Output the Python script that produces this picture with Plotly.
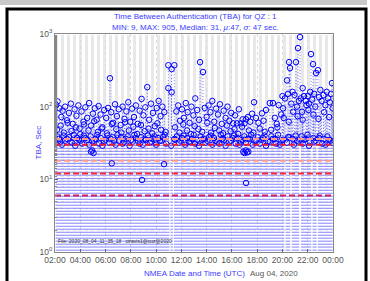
import datetime as dt
import plotly.graph_objects as go

# ---------------- data ----------------
DAY = dt.datetime(2020, 8, 4)

# upper scatter of TBA values (hour of day, seconds)
hi_hours = [2.1, 2.2, 2.35, 2.5, 2.6, 2.8, 2.95, 3.1, 3.25, 3.4, 3.55, 3.7, 3.85, 3.95,
            4.1, 4.25, 4.4, 4.55, 4.7, 4.85, 5.0, 5.15, 5.3, 5.45, 5.6, 5.75, 5.9,
            6.05, 6.2, 6.35, 6.45, 6.6, 6.75, 6.9, 7.05, 7.2, 7.35, 7.5, 7.65, 7.8, 7.95,
            8.1, 8.25, 8.4, 8.55, 8.7, 8.85, 9.0, 9.15, 9.3, 9.45, 9.6, 9.75, 9.9,
            10.05, 10.2, 10.35, 10.5, 10.65, 10.97, 10.97, 11.23, 11.23, 11.44, 11.6, 11.75, 11.9,
            12.05, 12.2, 12.35, 12.5, 12.65, 12.8, 12.95, 13.1, 13.25, 13.4, 13.48, 13.71, 13.85,
            14.0, 14.15, 14.3, 14.45, 14.6, 14.75, 14.9, 15.05, 15.2, 15.35, 15.5, 15.65, 15.8, 15.95,
            16.1, 16.25, 16.4, 16.55, 16.7, 16.85, 17.0, 17.12, 17.27, 17.45, 17.6, 17.75, 17.9,
            18.1, 18.38, 18.5, 18.7, 19.0, 19.25, 19.4, 19.55, 19.7, 19.9,
            20.0, 20.05, 20.2, 20.36, 20.44, 20.52, 20.6, 20.7, 20.8, 20.95, 21.07, 21.15, 21.23,
            21.3, 21.39, 21.45, 21.55, 21.6, 21.7, 21.85, 21.9,
            22.0, 22.1, 22.2, 22.26, 22.35, 22.42, 22.5, 22.6, 22.66, 22.81, 22.9, 23.0, 23.1,
            23.25, 23.4, 23.5, 23.6, 23.75, 23.85, 23.92, 23.97]
hi_values = [105, 118, 95, 72, 88, 100, 65, 82, 110, 58, 92, 75, 104, 50,
             86, 62, 98, 70, 112, 55, 80, 95, 66, 102, 78, 52, 90,
             70, 96, 246, 84, 60, 108, 74, 92, 56, 100, 68, 86, 115, 62,
             94, 72, 104, 58, 88, 128, 76, 98, 186, 66, 110, 82, 54,
             96, 120, 74, 100, 84, 372, 180, 330, 158, 372, 86, 104, 64,
             92, 70, 112, 84, 60, 100, 76, 130, 90, 66, 410, 300, 96,
             72, 104, 84, 120, 62, 94, 78, 108, 58, 88, 70, 100, 64, 82,
             59, 76, 59, 92, 59, 67, 59, 67, 72, 62, 80, 115, 70,
             60, 81, 64, 90, 112, 112, 70, 58, 105, 78,
             140, 95, 130, 230, 150, 410, 340, 110, 160, 145, 410, 100, 640,
             120, 906, 130, 85, 180, 140, 120, 105,
             140, 110, 160, 530, 125, 385, 150, 100, 290, 318, 135, 170, 120,
             145, 105, 160, 130, 115, 150, 211, 95]

# secondary cluster of mid values (between band and upper scatter)
mid_hours = [2.15, 2.45, 2.7, 3.0, 3.3, 3.65, 4.0, 4.3, 4.65, 5.1, 5.4, 5.7, 6.1, 6.5,
             6.85, 7.25, 7.55, 7.85, 8.2, 8.5, 8.8, 9.1, 9.4, 9.7, 10.1, 10.4, 10.75,
             11.5, 11.85, 12.15, 12.45, 12.75, 13.05, 13.35, 13.65, 14.05, 14.35, 14.65,
             15.0, 15.3, 15.6, 15.9, 16.2, 16.5, 16.8, 17.35, 17.7, 18.2, 18.6, 19.1,
             19.6, 20.1, 20.5, 20.85, 21.2, 21.6, 22.05, 22.45, 22.85, 23.3, 23.7]
mid_values = [48, 55, 44, 60, 46, 52, 42, 57, 47, 63, 45, 50, 43, 58, 49, 44, 61, 47,
              53, 42, 56, 46, 50, 43, 59, 48, 45, 52, 44, 57, 47, 42, 54, 49, 45, 60,
              44, 51, 47, 43, 55, 46, 49, 42, 53, 47, 44, 50, 45, 48, 52, 70, 62, 85,
              74, 66, 90, 78, 68, 84, 72]

# dense band of values around the median
band_hours = [2.05, 2.3, 2.55, 2.8, 3.1, 3.35, 3.6, 3.9, 4.15, 4.4, 4.7, 4.95, 5.2, 5.5,
              5.75, 6.0, 6.3, 6.55, 6.8, 7.1, 7.35, 7.6, 7.9, 8.15, 8.4, 8.7, 8.95, 9.2,
              9.5, 9.75, 10.0, 10.3, 10.55, 10.8, 11.2, 11.5, 11.8, 12.05, 12.3, 12.6,
              12.85, 13.1, 13.4, 13.65, 13.9, 14.2, 14.45, 14.7, 15.0, 15.25, 15.5, 15.8,
              16.05, 16.3, 16.6, 16.85, 17.1, 17.4, 17.65, 17.9, 18.2, 18.45, 18.7, 19.0,
              19.25, 19.5, 19.8, 20.05, 20.35, 20.55, 20.9, 21.15, 21.6, 21.85, 22.1,
              22.5, 22.9, 23.15, 23.4, 23.7, 23.95]
band_values = [31, 36, 30, 34, 38, 32, 29, 35, 31, 37, 30, 33, 36, 31, 29, 35, 32, 38,
               30, 34, 31, 36, 29, 33, 37, 31, 30, 35, 32, 36, 30, 34, 38, 31, 29, 35,
               32, 37, 30, 33, 36, 31, 29, 35, 32, 38, 30, 34, 31, 36, 29, 33, 37, 31,
               30, 35, 32, 36, 30, 34, 31, 37, 29, 33, 36, 31, 30, 35, 32, 38, 30, 34,
               31, 36, 29, 33, 37, 31, 30, 35, 32]
# second row of the band (offset in time)
band2_hours = [2.18, 2.43, 2.68, 2.95, 3.22, 3.48, 3.75, 4.02, 4.28, 4.55, 4.82, 5.08,
               5.35, 5.62, 5.88, 6.15, 6.42, 6.68, 6.95, 7.22, 7.48, 7.75, 8.02, 8.28,
               8.55, 8.82, 9.08, 9.35, 9.62, 9.88, 10.15, 10.42, 10.68, 11.45, 11.65,
               11.92, 12.18, 12.45, 12.72, 12.98, 13.25, 13.52, 13.78, 14.05, 14.32, 14.58,
               14.85, 15.12, 15.38, 15.65, 15.92, 16.18, 16.45, 16.72, 16.98, 17.25, 17.52,
               17.78, 18.05, 18.32, 18.58, 18.85, 19.12, 19.38, 19.65, 19.92, 20.45,
               20.8, 21.05, 21.28, 21.52, 21.75, 21.98, 22.45, 22.62, 22.95, 23.28, 23.55,
               23.82]
band2_values = [39, 33, 40, 36, 33, 41, 37, 34, 40, 35, 39, 34, 41, 37, 33, 40, 36,
                34, 41, 38, 33, 39, 35, 41, 34, 38, 36, 40, 33, 39, 37, 34, 41, 36,
                39, 34, 40, 37, 33, 41, 35, 39, 36, 34, 40, 37, 33, 41, 35, 39, 34,
                40, 37, 33, 39, 36, 41, 34, 38, 35, 40, 33, 39, 36, 41, 34, 38, 36,
                40, 33, 39, 35, 41, 37, 34, 40, 36, 39, 34]

# low outliers
low_hours = [4.85, 4.95, 5.05, 6.49, 8.89, 10.63, 16.9, 17.0, 17.1, 17.2, 17.3, 17.12]
low_values = [24, 25, 23, 16.6, 9.8, 16.2, 24, 23, 25, 23.5, 24, 8.9]

# horizontal stripe pattern of the dense dotted connectors
stripe_levels = [1.06, 1.17, 1.28, 1.41, 1.55, 1.70, 1.87, 2.06, 2.26, 2.49, 2.74, 3.01,
                 3.31, 3.64, 4.0, 4.4, 4.84, 5.32, 5.85, 6.43, 7.07, 7.78, 8.55, 9.40,
                 10.3, 11.4, 12.5, 13.8, 15.1, 16.6, 18.3, 20.1, 22.1, 24.3, 26.7, 29.4]
data_start_hour = 2.05
data_end_hour = 23.98
gap_start_hours = [11.05, 11.33, 20.15, 20.62, 21.33, 22.28, 22.70]
gap_end_hours = [11.14, 11.41, 20.25, 20.74, 21.47, 22.38, 22.80]

# reference threshold lines
ref_levels = [36, 30, 18, 12, 6]
ref_labels = ["36 Sec", "30 Sec", "18 Sec", "12 Sec", "6 Sec"]
ref_colors = ["#ff9a8a", "#e8203a", "#ff9a8a", "#ff2a2a", "#d0205a"]

x_tick_hours = [2, 4, 6, 8, 10, 12, 14, 16, 18, 20, 22, 24]
y_tick_vals = [1, 10, 100, 1000]
y_tick_text = ["10<sup>0</sup>", "10<sup>1</sup>", "10<sup>2</sup>", "10<sup>3</sup>"]


def T(h):
    return DAY + dt.timedelta(hours=h)


fig = go.Figure()

# stripes
sx, sy = [], []
seg_bounds = [data_start_hour]
for a, b in zip(gap_start_hours, gap_end_hours):
    seg_bounds += [a, b]
seg_bounds.append(data_end_hour)
for lev in stripe_levels:
    for i in range(0, len(seg_bounds), 2):
        sx += [T(seg_bounds[i]), T(seg_bounds[i + 1]), None]
        sy += [lev, lev, None]
fig.add_trace(go.Scatter(x=sx, y=sy, mode="lines", hoverinfo="skip",
                         line=dict(color="rgba(80,80,255,0.7)", width=1)))

# stems (dotted connectors)
tx, ty = [], []
for h, v in zip(hi_hours + mid_hours, hi_values + mid_values):
    tx += [T(h), T(h), None]
    ty += [v, 32, None]
fig.add_trace(go.Scatter(x=tx, y=ty, mode="lines", hoverinfo="skip",
                         line=dict(color="rgba(60,60,255,0.7)", width=1, dash="1px,2px")))

mk = dict(symbol="circle-open", size=5.5, color="#0000ff", line=dict(width=1))

# band rows
fig.add_trace(go.Scatter(x=[T(h) for h in band2_hours], y=band2_values, mode="lines+markers",
                         line=dict(color="#2a2aff", width=1, dash="1px,1px"), marker=mk))
fig.add_trace(go.Scatter(x=[T(h) for h in band_hours], y=band_values, mode="lines+markers",
                         line=dict(color="#1a1aff", width=1, dash="1px,1px"), marker=mk))

# reference lines
for lev, lab, col in zip(ref_levels, ref_labels, ref_colors):
    fig.add_trace(go.Scatter(x=[T(2.0), T(24.0)], y=[lev, lev], mode="lines", hoverinfo="skip",
                             line=dict(color=col, width=2, dash="6px,3px")))
    fig.add_annotation(x=T(2.15), y=lev, xref="x", yref="y", yshift=6, text=lab,
                       showarrow=False, xanchor="left", yanchor="middle",
                       font=dict(size=7, color="#222"))

# mid points
fig.add_trace(go.Scatter(x=[T(h) for h in mid_hours], y=mid_values, mode="markers", marker=mk))
# hi points
fig.add_trace(go.Scatter(x=[T(h) for h in hi_hours], y=hi_values, mode="markers", marker=mk))
# low points
fig.add_trace(go.Scatter(x=[T(h) for h in low_hours], y=low_values, mode="markers", marker=mk))

font_main = "Liberation Sans, Arial, sans-serif"
blue_txt = "#3b3bff"

fig.update_layout(
    width=370, height=281,
    margin=dict(l=55, r=37, t=34, b=29),
    paper_bgcolor="white", plot_bgcolor="white",
    showlegend=False,
    font=dict(family=font_main, size=8, color="#555"),
    xaxis=dict(type="date", range=[T(2.0), T(24.0)],
               tickvals=[T(h) for h in x_tick_hours], tickformat="%H:%M",
               ticks="inside", ticklen=3, tickcolor="#666",
               showline=True, linecolor="#888", mirror=True,
               showgrid=True, gridcolor="#dcdcdc", griddash="dot",
               tickfont=dict(size=8.5, color="#555"), zeroline=False),
    yaxis=dict(type="log", range=[0, 3],
               tickvals=y_tick_vals, ticktext=y_tick_text,
               ticks="inside", ticklen=3, tickcolor="#666",
               showline=True, linecolor="#888", mirror=True,
               showgrid=True, gridcolor="#dcdcdc", griddash="dot",
               minor=dict(showgrid=True, gridcolor="#e8e8e8", griddash="dot",
                          ticks="inside", ticklen=2, tickcolor="#888"),
               tickfont=dict(size=8.5, color="#555"), zeroline=False),
)

pw, ph = 278.0, 218.0
def px(x):
    return (x - 55) / pw
def py(y):
    return (252 - y) / ph

# titles and labels
fig.add_annotation(xref="paper", yref="paper", x=px(195), y=py(16),
                   text="Time Between Authentication (TBA) for QZ : 1",
                   showarrow=False, font=dict(size=8, color=blue_txt), yanchor="middle")
fig.add_annotation(xref="paper", yref="paper", x=px(195), y=py(27),
                   text="MIN: 9, MAX: 905, Median: 31, <i>μ</i>:47, <i>σ</i>: 47 sec.",
                   showarrow=False, font=dict(size=8, color=blue_txt), yanchor="middle")
fig.add_annotation(xref="paper", yref="paper", x=px(31), y=0.5, text="TBA, Sec",
                   textangle=-90, showarrow=False, font=dict(size=8, color=blue_txt))
fig.add_annotation(xref="paper", yref="paper", x=px(194), y=py(273),
                   text="NMEA Date and Time (UTC)", showarrow=False,
                   font=dict(size=8, color=blue_txt), yanchor="middle")
fig.add_annotation(xref="paper", yref="paper", x=px(300), y=py(273),
                   text="Aug 04, 2020", showarrow=False,
                   font=dict(size=8, color="#555"), yanchor="middle")
fig.add_annotation(xref="paper", yref="paper", x=px(56), y=py(241),
                   text="File: 2020_08_04_11_35_18   ctravis1@cuz@2020", showarrow=False,
                   xanchor="left", yanchor="middle", font=dict(size=5, color="#333"))

# window decoration: grey top band and black frame
fig.add_shape(type="rect", xref="paper", yref="paper", x0=px(0), x1=px(367), y0=py(5), y1=py(0),
              fillcolor="#c8c8c8", line=dict(width=0), layer="below")
fig.add_shape(type="rect", xref="paper", yref="paper", x0=px(7), x1=px(366), y0=py(300), y1=py(9),
              fillcolor="rgba(0,0,0,0)", line=dict(color="black", width=3))

fig.write_html("out.html", post_script="document.body.style.margin='0';",
               config={"displayModeBar": False})
